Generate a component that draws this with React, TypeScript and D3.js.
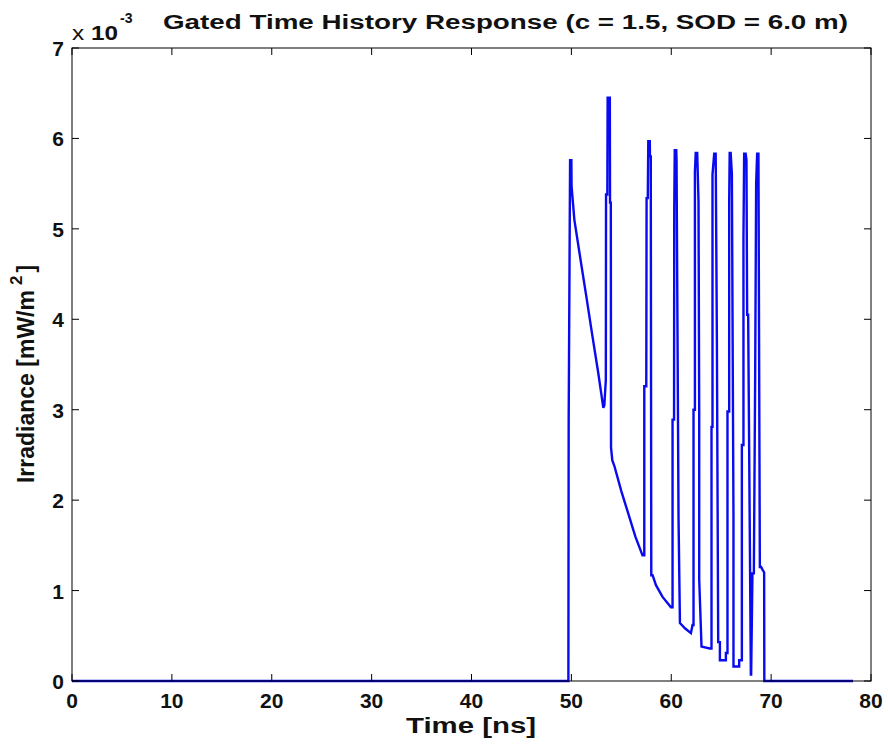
import React from "react";
import * as d3 from "d3";

// Time [ns] and irradiance [x1e-3 mW/m^2]
const timeNs: number[] = [
  0, 49.7, 49.73, 49.87, 50.0, 50.02, 50.3, 51.0, 51.5, 52.1, 52.7, 53.2,
  53.3, 53.45, 53.47, 53.6, 53.63, 53.85, 53.87, 53.95, 53.97, 54.1, 54.3, 55.0, 55.7, 56.4, 57.12,
  57.3, 57.3, 57.5, 57.53, 57.65, 57.7, 57.85, 57.87, 57.95, 58.0, 58.13, 58.47, 59.13, 59.97,
  60.13, 60.13, 60.28, 60.3, 60.35, 60.5, 60.53, 60.73, 60.87, 61.4, 61.97, 62.13,
  62.23, 62.23, 62.37, 62.37, 62.45, 62.6, 62.73, 62.8, 62.8, 63.03, 63.87,
  64.03, 64.03, 64.13, 64.13, 64.3, 64.45, 64.57, 64.7, 64.87, 64.87, 65.47, 65.47,
  65.63, 65.63, 65.8, 65.8, 65.85, 65.95, 66.07, 66.23, 66.23, 66.8, 66.8,
  67.07, 67.07, 67.23, 67.23, 67.3, 67.45, 67.53, 67.6, 67.7, 67.97, 68.0, 68.13, 68.27,
  68.4, 68.5, 68.6, 68.73, 68.87, 69.0, 69.3, 69.32, 78.2,
];
const irradiance: number[] = [
  0, 0, 2.87, 5.76, 5.76, 5.47, 5.1, 4.6, 4.25, 3.82, 3.4, 3.02,
  3.05, 3.33, 5.38, 5.38, 6.45, 6.45, 5.29, 5.29, 2.58, 2.44, 2.38, 2.1, 1.85, 1.6, 1.39,
  1.39, 3.26, 3.26, 5.34, 5.34, 5.97, 5.97, 5.8, 5.8, 1.17, 1.17, 1.06, 0.93, 0.815,
  0.815, 2.89, 2.89, 5.23, 5.87, 5.87, 5.76, 1.8, 0.64, 0.58, 0.53, 0.62,
  0.62, 3.0, 3.0, 5.63, 5.84, 5.84, 5.3, 2.98, 1.12, 0.38, 0.36,
  0.36, 2.81, 2.81, 5.6, 5.83, 5.83, 3.77, 0.43, 0.43, 0.23, 0.23, 0.31,
  0.31, 2.98, 2.98, 5.3, 5.84, 5.84, 5.61, 1.82, 0.16, 0.16, 0.23,
  0.23, 2.61, 2.61, 4.9, 5.83, 5.83, 5.76, 4.05, 4.05, 0.07, 0.07, 1.19, 1.19,
  3.33, 5.5, 5.83, 5.83, 1.26, 1.26, 1.2, 0, 0,
];

const xTicks: number[] = [0, 10, 20, 30, 40, 50, 60, 70, 80];
const yTicks: number[] = [0, 1, 2, 3, 4, 5, 6, 7];

const titleText = "Gated Time History Response  (c = 1.5, SOD = 6.0 m)";
const xLabel = "Time [ns]";

export default function App() {
  const W = 888;
  const H = 744;
  const left = 72, right = 871, top = 48, bottom = 681;
  const x = d3.scaleLinear().domain([0, 80]).range([left, right]);
  const y = d3.scaleLinear().domain([0, 7]).range([bottom, top]);
  const pts: [number, number][] = timeNs.map((t, i) => [t, irradiance[i]]);
  const line = d3
    .line<[number, number]>()
    .x((d) => x(d[0]))
    .y((d) => y(d[1]));
  const font = "'Liberation Sans', Arial, Helvetica, sans-serif";
  const tl = 7;

  return (
    <svg
      width={W}
      height={H}
      style={{ position: "absolute", left: 0, top: 0, background: "#fff" }}
      fontFamily={font}
      fontWeight="bold"
    >
      <rect x={0} y={0} width={W} height={H} fill="#fff" />
      {/* data line */}
      <path d={line(pts) || ""} fill="none" stroke="#0a0af0" strokeWidth={2.4} strokeLinejoin="miter" />
      {/* axes box */}
      <rect x={left} y={top} width={right - left} height={bottom - top} fill="none" stroke="#000" strokeWidth={1} />
      {/* x ticks */}
      {xTicks.map((t) => (
        <g key={"x" + t}>
          <line x1={x(t)} x2={x(t)} y1={bottom} y2={bottom - tl} stroke="#000" />
          <line x1={x(t)} x2={x(t)} y1={top} y2={top + tl} stroke="#000" />
          <text x={x(t)} y={708} fontSize={21} textAnchor="middle" fill="#111">
            {t}
          </text>
        </g>
      ))}
      {/* y ticks */}
      {yTicks.map((t) => (
        <g key={"y" + t}>
          <line x1={left} x2={left + tl} y1={y(t)} y2={y(t)} stroke="#000" />
          <line x1={right} x2={right - tl} y1={y(t)} y2={y(t)} stroke="#000" />
          <text x={64} y={y(t) + 8} fontSize={21} textAnchor="end" fill="#111">
            {t}
          </text>
        </g>
      ))}
      {/* exponent */}
      <text x={72} y={40} fontSize={21} fill="#111" textLength={46} lengthAdjust="spacingAndGlyphs">
        <tspan fontWeight="normal">x</tspan>
        <tspan fontWeight="bold"> 10</tspan>
      </text>
      <text x={120} y={23} fontSize={14} fill="#111">
        -3
      </text>
      {/* title */}
      <text x={163} y={29} fontSize={20} fill="#111" textLength={685} lengthAdjust="spacingAndGlyphs">
        {titleText}
      </text>
      {/* x label */}
      <text x={471} y={733} fontSize={22} textAnchor="middle" fill="#111" textLength={130} lengthAdjust="spacingAndGlyphs">
        {xLabel}
      </text>
      {/* y label */}
      <text transform="translate(34,374) rotate(-90)" fontSize={23} textAnchor="middle" fill="#111">
        Irradiance [mW/m<tspan dx={5} dy={-12} fontSize={17}>2</tspan>
        <tspan dx={3} dy={12}>]</tspan>
      </text>
    </svg>
  );
}
